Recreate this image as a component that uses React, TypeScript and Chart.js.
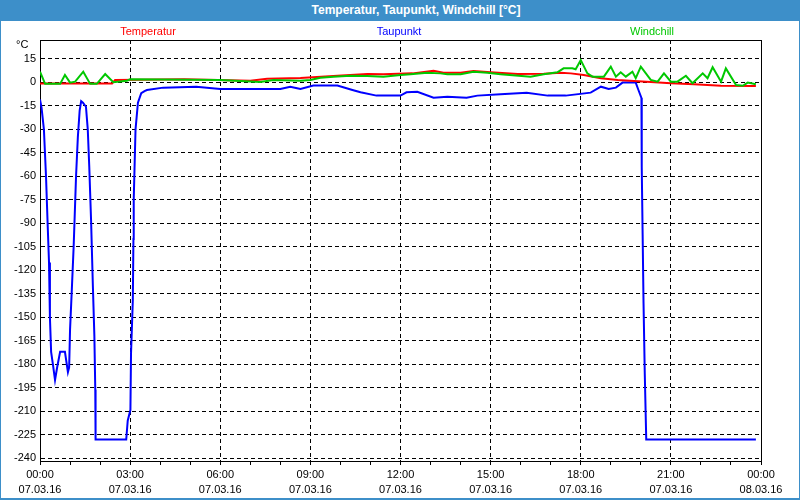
import React, { useEffect, useRef } from 'react';
import { Chart, registerables } from 'chart.js';

Chart.register(...registerables);

// ---- data (hours since 07.03.16 00:00, °C) ----
const yTickValues = [-240, -225, -210, -195, -180, -165, -150, -135, -120, -105, -90, -75, -60, -45, -30, -15, 0, 15];
const xTimeLabels = ['00:00', '03:00', '06:00', '09:00', '12:00', '15:00', '18:00', '21:00', '00:00'];
const xDateLabels = ['07.03.16', '07.03.16', '07.03.16', '07.03.16', '07.03.16', '07.03.16', '07.03.16', '07.03.16', '08.03.16'];

const temperaturHours = [0, 2.4, 2.5, 4.8, 7, 7.56, 8.67, 9.9, 10.9, 11.43, 12.4, 13.1, 13.43, 14.0, 14.43, 15.0, 15.9, 16.77, 17.33, 17.67, 18.1, 18.67, 19.23, 19.77, 20.33, 21.0, 21.77, 22.67, 23.83];
const temperaturValues = [-0.8, -0.8, 1.5, 1.9, 1, 2.3, 2.7, 4.2, 5.3, 5.1, 5.7, 7.4, 6.1, 6.1, 7.2, 6.4, 5.3, 5.5, 6.1, 5.7, 4.7, 2.6, 1.5, 0.8, 0.2, -0.6, -1.3, -2.2, -2.4];

const taupunktHours = [0.0, 0.05, 0.13, 0.2, 0.25, 0.3, 0.33, 0.37, 0.43, 0.5, 0.57, 0.67, 0.83, 0.93, 0.97, 1.0, 1.06, 1.12, 1.15, 1.2, 1.26, 1.32, 1.37, 1.43, 1.53, 1.59, 1.64, 1.7, 1.76, 1.81, 1.84, 1.85, 2.87, 2.92, 3.01, 3.03, 3.09, 3.11, 3.12, 3.18, 3.26, 3.37, 3.48, 3.56, 4.1, 5.2, 6.0, 8.0, 8.33, 8.67, 9.1, 9.9, 10.4, 10.67, 11.2, 12.0, 12.2, 12.56, 13.1, 13.56, 14.2, 14.56, 15.33, 16.2, 16.9, 17.5, 18.33, 18.67, 18.93, 19.17, 19.39, 19.83, 19.92, 20.02, 20.03, 20.06, 20.09, 20.13, 20.18, 23.83];
const taupunktValues = [-11, -16, -30, -60, -88, -115, -150, -172, -180, -190, -182, -172, -172, -185, -182, -158, -132, -105, -88, -60, -35, -18, -12, -13, -15.6, -30, -54, -88, -130, -162, -196, -228, -228, -216, -209, -173, -139, -100, -75, -30, -13, -7, -5.6, -4.9, -3.4, -2.8, -4.3, -4.3, -2.8, -4.3, -2.1, -2.1, -4.9, -6.4, -8.5, -8.5, -6.4, -6, -9.8, -9.2, -9.8, -8.5, -7.7, -6.6, -8.5, -8.5, -6.6, -2.8, -4.3, -3.4, -0.2, -0.2, -4.9, -10, -54, -97, -141, -185, -228, -228];

const windchillHours = [0, 0.17, 0.67, 0.83, 1.0, 1.17, 1.44, 1.67, 1.89, 2.17, 2.44, 2.89, 3.0, 6.0, 6.67, 7.33, 7.77, 8.67, 9.0, 9.33, 9.77, 10.33, 10.89, 11.43, 12.0, 12.33, 12.89, 13.33, 13.56, 14.0, 14.43, 14.89, 15.33, 16.33, 16.77, 17.22, 17.43, 17.72, 17.83, 18.0, 18.22, 18.39, 18.77, 19.0, 19.17, 19.33, 19.5, 19.72, 19.83, 20.0, 20.33, 20.56, 20.77, 21.0, 21.22, 21.5, 21.72, 22.06, 22.22, 22.39, 22.67, 22.83, 23.17, 23.39, 23.56, 23.83];
const windchillValues = [6.8, -1, -1, 4.7, -0.2, 0.4, 6.8, -1, -1, 5.3, 0, 1, 1.9, 1.5, 0.8, 0.2, 1.5, 1, 1.5, 2.9, 3.6, 4.2, 4, 3.6, 4.7, 5.1, 6.1, 5.7, 5.1, 5.1, 6.8, 6.1, 5.1, 3.6, 5.1, 6.4, 8.9, 8.9, 8.3, 14.2, 5.7, 3.6, 3.6, 10, 3.6, 6.4, 3.6, 6.8, 2.6, 10, 1.5, 0.4, 5.7, 0.4, 0.4, 4.2, -0.6, 5.7, 2.6, 9.6, 0.4, 8.9, -1.7, -2.2, -0.2, -1.3];

const seriesNames = ['Temperatur', 'Taupunkt', 'Windchill'];
const seriesColors = ['#ff0000', '#0000ff', '#00c800'];

const FONT = '"Liberation Sans", Arial, sans-serif';

const toPoints = (hs: number[], vs: number[]) => hs.map((h, i) => ({ x: h, y: vs[i] }));

const frameAndLegend = {
  id: 'frameAndLegend',
  afterDraw(chart: any) {
    const { ctx, chartArea } = chart;
    ctx.save();
    ctx.strokeStyle = '#000';
    ctx.lineWidth = 1;
    ctx.setLineDash([]);
    ctx.beginPath();
    ctx.moveTo(chartArea.left, chartArea.top + 0.5);
    ctx.lineTo(chartArea.right + 0.5, chartArea.top + 0.5);
    ctx.lineTo(chartArea.right + 0.5, chartArea.bottom);
    ctx.stroke();
    // legend labels
    ctx.font = '11px ' + FONT;
    ctx.textAlign = 'center';
    ctx.textBaseline = 'middle';
    const centers = [148, 399, 652];
    seriesNames.forEach((n, i) => {
      ctx.fillStyle = seriesColors[i];
      ctx.fillText(n, centers[i], 32);
    });
    // unit label
    ctx.fillStyle = '#000';
    ctx.textAlign = 'left';
    ctx.fillText('°C', 16, 45);
    ctx.restore();
  },
};

export default function App() {
  const ref = useRef<HTMLCanvasElement>(null);

  useEffect(() => {
    if (!ref.current) return;
    const chart = new Chart(ref.current, {
      type: 'line',
      data: {
        datasets: [
          { label: seriesNames[2], data: toPoints(windchillHours, windchillValues), borderColor: seriesColors[2], order: 0 },
          { label: seriesNames[0], data: toPoints(temperaturHours, temperaturValues), borderColor: seriesColors[0], order: 1 },
          { label: seriesNames[1], data: toPoints(taupunktHours, taupunktValues), borderColor: seriesColors[1], order: 2 },
        ] as any,
      },
      options: {
        animation: false,
        responsive: false,
        devicePixelRatio: 1,
        layout: { padding: { left: 0, top: 40, right: 39, bottom: 0 } },
        elements: {
          line: { borderWidth: 2, tension: 0, fill: false },
          point: { radius: 0, hoverRadius: 0 },
        },
        plugins: {
          legend: { display: false },
          title: { display: false },
          tooltip: { enabled: false },
        },
        scales: {
          x: {
            type: 'linear',
            min: 0,
            max: 24,
            afterBuildTicks: (scale: any) => {
              const t = [];
              for (let h = 0; h <= 24; h++) t.push({ value: h });
              scale.ticks = t;
            },
            afterFit: (scale: any) => {
              scale.height = 39;
            },
            ticks: {
              autoSkip: false,
              maxRotation: 0,
              minRotation: 0,
              padding: 2,
              color: '#000',
              font: { family: FONT, size: 11, lineHeight: 1.4 },
              callback: (value: any) => {
                const v = Number(value);
                if (v % 3 !== 0) return '';
                const i = v / 3;
                return [xTimeLabels[i], xDateLabels[i]];
              },
            },
            grid: {
              color: (c: any) => (c.tick && c.tick.value % 3 === 0 ? '#000' : 'rgba(0,0,0,0)'),
              lineWidth: 1,
              tickColor: '#000',
              tickLength: 4,
              drawTicks: true,
            },
            border: { display: true, color: '#000', width: 1, dash: [4, 3] },
          },
          y: {
            type: 'linear',
            min: -241.7,
            max: 27,
            afterBuildTicks: (scale: any) => {
              scale.ticks = yTickValues.map((v) => ({ value: v }));
            },
            afterFit: (scale: any) => {
              scale.width = 40;
            },
            ticks: {
              padding: 4,
              color: '#000',
              font: { family: FONT, size: 11 },
              callback: (value: any) => String(value),
            },
            grid: {
              color: '#000',
              lineWidth: 1,
              drawTicks: false,
            },
            border: { display: true, color: '#000', width: 1, dash: [4, 3] },
          },
        },
      } as any,
      plugins: [frameAndLegend],
    });
    return () => chart.destroy();
  }, []);

  return (
    <div style={{ position: 'fixed', left: 0, top: 0, width: 800, height: 500, background: '#3d8fc9', overflow: 'hidden' }}>
      <div style={{ position: 'absolute', left: 1, top: 21, width: 798, height: 477, background: '#ffffff' }} />
      <div
        style={{
          position: 'absolute',
          left: 416,
          top: 0,
          height: 21,
          lineHeight: '21px',
          transform: 'translateX(-50%)',
          whiteSpace: 'nowrap',
          color: '#fff',
          fontFamily: FONT,
          fontWeight: 'bold',
          fontSize: 12,
        }}
      >
        Temperatur, Taupunkt, Windchill [°C]
      </div>
      <canvas ref={ref} width={800} height={500} style={{ position: 'absolute', left: 0, top: 0, width: 800, height: 500 }} />
    </div>
  );
}
